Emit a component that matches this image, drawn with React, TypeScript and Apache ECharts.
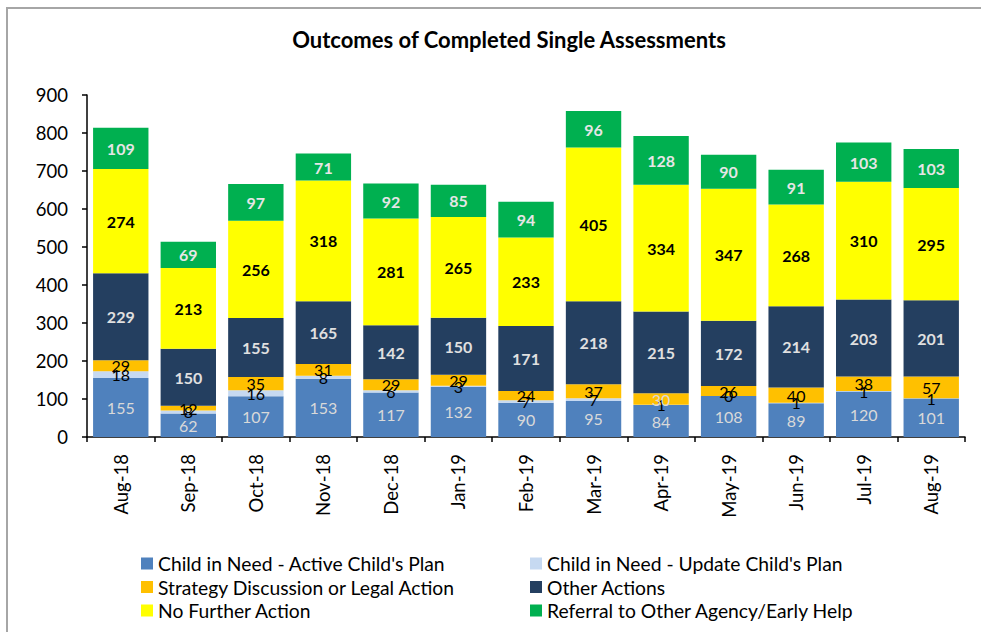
import React, { useEffect, useRef } from "react";
import * as echarts from "echarts";

const months = ["Aug-18","Sep-18","Oct-18","Nov-18","Dec-18","Jan-19","Feb-19","Mar-19","Apr-19","May-19","Jun-19","Jul-19","Aug-19"];
const activePlan = [155,62,107,153,117,132,90,95,84,108,89,120,101];
const updatePlan = [18,8,16,8,6,3,7,7,1,0,1,1,1];
const strategy = [29,12,35,31,29,29,24,37,30,26,40,38,57];
const otherActions = [229,150,155,165,142,150,171,218,215,172,214,203,201];
const noFurther = [274,213,256,318,281,265,233,405,334,347,268,310,295];
const referral = [109,69,97,71,92,85,94,96,128,90,91,103,103];
const yTicks = [0,100,200,300,400,500,600,700,800,900];

const FONT = "Lato, 'Open Sans', sans-serif";

export default function App() {
  const ref = useRef<HTMLDivElement>(null);
  useEffect(() => {
    if (!ref.current) return;
    const chart = echarts.init(ref.current, null, { renderer: "svg" });
    const mk = (name: string, data: any[], color: string, labelColor: string, bold: boolean) => ({
      name,
      type: "bar",
      stack: "total",
      data,
      barCategoryGap: "18%",
      itemStyle: { color },
      label: {
        show: true,
        position: "inside",
        color: labelColor,
        fontFamily: FONT,
        fontSize: 16,
        fontWeight: bold ? "bold" : "normal",
      },
    });
    const strategyData = strategy.map((v, i) =>
      months[i] === "Apr-19" ? { value: v, label: { color: "#d9d9d9" } } : v
    );
    const legendText = { fontFamily: FONT, fontSize: 19.3, lineHeight: 18, color: "#000", padding: [0, 0, 0, 0] };
    chart.setOption({
      animation: false,
      textStyle: { fontFamily: FONT },
      title: {
        text: "Outcomes of Completed Single Assessments",
        left: 504,
        textAlign: "center",
        top: 23,
        textStyle: { fontFamily: FONT, fontSize: 22, fontWeight: "bold", color: "#000" },
      },
      graphic: [
        {
          type: "rect",
          shape: { x: 7, y: 8, width: 1100, height: 800 },
          style: { fill: "none", stroke: "#a6a6a6", lineWidth: 2 },
          silent: true,
        },
      ],
      legend: [
        {
          orient: "vertical",
          left: 141,
          top: 554,
          padding: 0,
          icon: "rect",
          itemWidth: 12,
          itemHeight: 12,
          itemGap: 4.5,
          textStyle: legendText,
          data: ["Child in Need - Active Child's Plan", "Strategy Discussion or Legal Action", "No Further Action"],
        },
        {
          orient: "vertical",
          left: 530,
          top: 554,
          padding: 0,
          icon: "rect",
          itemWidth: 12,
          itemHeight: 12,
          itemGap: 4.5,
          textStyle: legendText,
          data: ["Child in Need - Update Child's Plan", "Other Actions", "Referral to Other Agency/Early Help"],
        },
      ],
      grid: { left: 87, right: 16, top: 95, bottom: 195, containLabel: false },
      xAxis: {
        type: "category",
        data: months,
        axisLine: { lineStyle: { color: "#000", width: 1.5 } },
        axisTick: { show: true, length: 5, interval: 0, lineStyle: { color: "#000", width: 1.5 } },
        axisLabel: { rotate: 90, margin: 17, fontSize: 18.5, color: "#000", fontFamily: FONT, interval: 0 },
      },
      yAxis: {
        type: "value",
        min: yTicks[0],
        max: yTicks[yTicks.length - 1],
        interval: 100,
        axisLine: { show: true, lineStyle: { color: "#000", width: 1.5 } },
        axisTick: { show: true, inside: false, length: 5, lineStyle: { color: "#000", width: 1.5 } },
        axisLabel: { fontSize: 18.5, color: "#000", fontFamily: FONT, margin: 19 },
        splitLine: { show: false },
      },
      series: [
        mk("Child in Need - Active Child's Plan", activePlan, "#4f81bd", "#d9d9d9", false),
        mk("Child in Need - Update Child's Plan", updatePlan, "#c6d9f1", "#000", false),
        mk("Strategy Discussion or Legal Action", strategyData, "#ffc000", "#000", false),
        mk("Other Actions", otherActions, "#243f60", "#e0e0e0", true),
        mk("No Further Action", noFurther, "#ffff00", "#000", true),
        mk("Referral to Other Agency/Early Help", referral, "#00b050", "#e6e6e6", true),
      ],
    });
    return () => chart.dispose();
  }, []);
  return (
    <div
      ref={ref}
      style={{ position: "absolute", left: 0, top: 0, width: 981, height: 632, background: "#fff" }}
    />
  );
}
